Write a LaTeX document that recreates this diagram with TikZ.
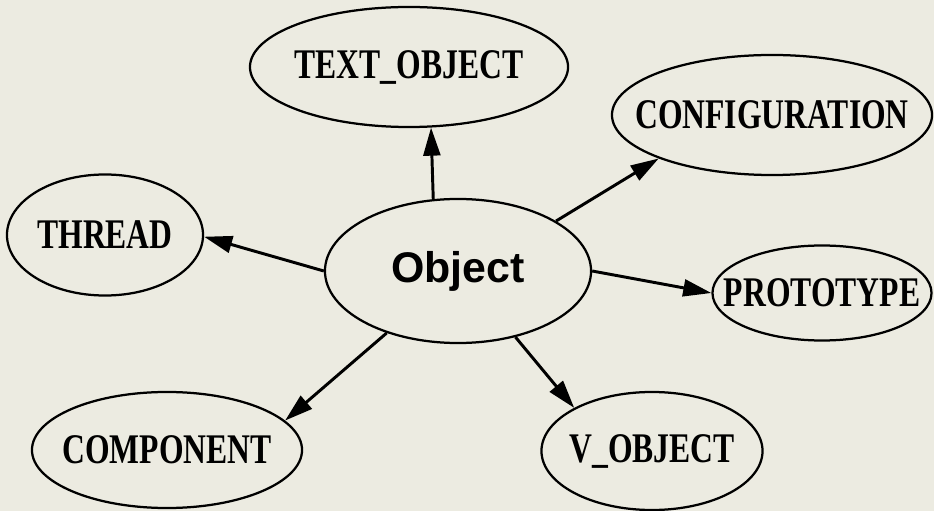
\documentclass[tikz,border=0pt]{standalone}
\usepackage{fontspec}
\usetikzlibrary{shapes.geometric,arrows.meta}
\newfontfamily\lblfont[FakeStretch=0.75]{Liberation Serif}
\newfontfamily\objfont{Liberation Sans}
\definecolor{paper}{RGB}{236,235,225}
\begin{document}
\begin{tikzpicture}[x=0.025cm,y=-0.025cm,
    oval/.style={ellipse,draw,line width=1.6pt,inner sep=0pt,
        font=\lblfont\bfseries\fontsize{30}{30}\selectfont},
    arr/.style={line width=2.1pt,-{Triangle[length=20pt,width=12pt]}}]

%background

\fill[paper] (0,0) rectangle (934,511);
\useasboundingbox (0,0) rectangle (934,511);

% nodes

\node[oval,minimum width=6.65cm,minimum height=3.6cm,
      font=\objfont\bfseries\fontsize{30.5}{30}\selectfont] (obj) at (458,271) {\makebox[0pt]{Object}};

\node[oval,minimum width=7.95cm,minimum height=3cm] (txt) at (409,67) {\makebox[0pt]{TEXT\_OBJECT}};
\node[oval,minimum width=8cm,minimum height=3cm] (conf) at (772,115) {\makebox[0pt]{CONFIGURATION}};
\node[oval,minimum width=4.9cm,minimum height=3.025cm] (thr) at (105,235) {\makebox[0pt]{THREAD}};
\node[oval,minimum width=5.475cm,minimum height=2.375cm] (proto) at (822,293) {\makebox[0pt]{\raisebox{-5pt}{PROTOTYPE}}};
\node[oval,minimum width=6.75cm,minimum height=2.9cm] (comp) at (167,450) {\makebox[0pt]{COMPONENT}};
\node[oval,minimum width=5.525cm,minimum height=2.95cm] (vobj) at (652,451) {\makebox[0pt]{V\_OBJECT}};

% arrows

\draw[arr] (obj.109) -- (txt.290);
\draw[arr] (obj.27) -- (conf.201);
\draw[arr] (obj.180) -- (thr.359);
\draw[arr] (obj.0) -- (proto.180);
\draw[arr] (obj.221) -- (comp.14);
\draw[arr] (obj.311) -- (vobj.151);
\end{tikzpicture}
\end{document}
